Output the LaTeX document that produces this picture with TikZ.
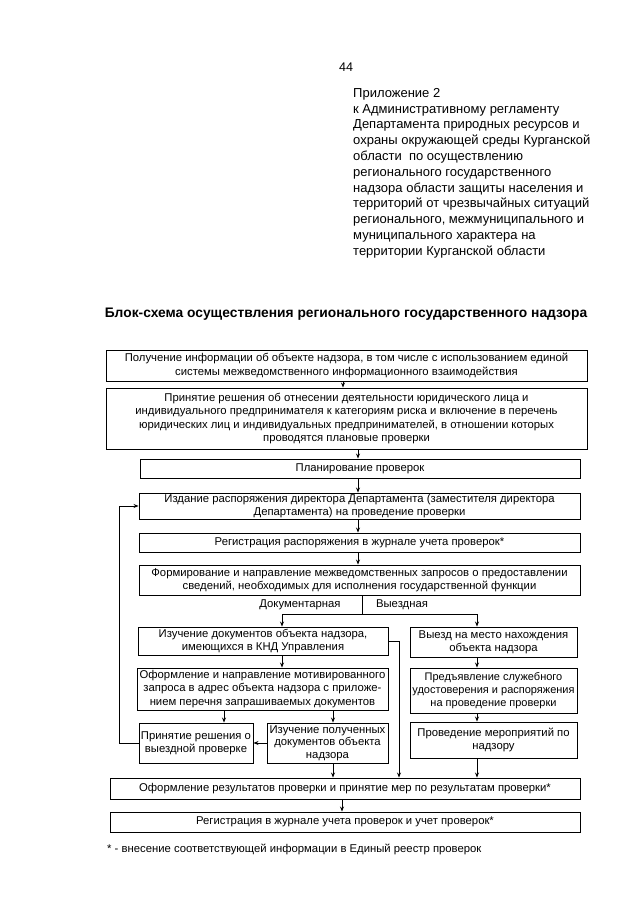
\documentclass[tikz,border=0pt]{standalone}
\usepackage{fontspec}
\setmainfont{Liberation Sans}
\usetikzlibrary{arrows.meta}
\begin{document}
\begin{tikzpicture}[x=1pt,y=-1pt,
  box/.style={draw, line width=0.9pt, align=center, inner sep=0.5pt,
    font=\fontsize{11.3}{13.4}\selectfont},
  arr/.style={-{Stealth[length=5pt,width=4pt]}, line width=0.9pt},
  ln/.style={line width=0.9pt},
  lbl/.style={font=\fontsize{11.3}{12}\selectfont, inner sep=0pt}]
\useasboundingbox (0,0) rectangle (639,905);

% header
\node[anchor=base west, inner sep=0, font=\fontsize{12.5}{15}\selectfont] (pg) at (339,71) {44};
\node[anchor=north west, align=left, inner sep=0, font=\fontsize{13}{15.8}\selectfont] (hdr) at (353,88)
 {Приложение 2\\к Административному регламенту\\Департамента природных ресурсов и\\охраны окружающей среды Курганской\\области\ \ по осуществлению\\регионального государственного\\надзора области защиты населения и\\территорий от чрезвычайных ситуаций\\регионального, межмуниципального и\\муниципального характера на\\территории Курганской области};

\node[inner sep=0, font=\bfseries\fontsize{13.8}{15}\selectfont] (title) at (346,314)
 {Блок-схема осуществления регионального государственного надзора};

% main column
\node[box, minimum width=481, minimum height=31] (b1) at (346.5,365.5)
 {Получение информации об объекте надзора, в том числе с использованием единой\\системы межведомственного информационного взаимодействия};
\node[box, minimum width=481, minimum height=61] (b2) at (346.5,418.5)
 {Принятие решения об отнесении деятельности юридического лица и\\индивидуального предпринимателя к категориям риска и включение в перечень\\юридических лиц и индивидуальных предпринимателей, в отношении которых\\проводятся плановые проверки};
\node[box, minimum width=440, minimum height=19] (b3) at (360,468.5) {Планирование проверок};
\node[box, minimum width=441, minimum height=26] (b4) at (359.5,506)
 {Издание распоряжения директора Департамента (заместителя директора\\Департамента) на проведение проверки};
\node[box, minimum width=441, minimum height=19] (b5) at (359.5,542.5)
 {Регистрация распоряжения в журнале учета проверок*};
\node[box, minimum width=441, minimum height=30] (b6) at (359.5,580)
 {Формирование и направление межведомственных запросов о предоставлении\\сведений, необходимых для исполнения государственной функции};

% left branch
\node[box, minimum width=250, minimum height=28] (L1) at (263,641)
 {Изучение документов объекта надзора,\\имеющихся в КНД Управления};
\node[box, minimum width=251, minimum height=42] (L2) at (262.5,689)
 {Оформление и направление мотивированного\\запроса в адрес объекта надзора с приложе-\\нием перечня запрашиваемых документов};
\node[box, minimum width=114, minimum height=40] (L3) at (196,743)
 {Принятие решения о\\выездной проверке};
\node[box, minimum width=121, minimum height=40, font=\fontsize{11.3}{12.6}\selectfont] (L4) at (327.5,743)
 {Изучение полученных\\документов объекта\\надзора};

% right branch
\node[box, minimum width=167, minimum height=30] (R1) at (493.5,642)
 {Выезд на место нахождения\\объекта надзора};
\node[box, minimum width=167, minimum height=45, font=\fontsize{11}{13.4}\selectfont] (R2) at (493.5,690.5)
 {Предъявление служебного\\удостоверения и распоряжения\\на проведение проверки};
\node[box, minimum width=167, minimum height=36] (R3) at (493.5,740)
 {Проведение мероприятий по\\надзору};

% bottom
\node[box, minimum width=470, minimum height=21] (F1) at (345,788.5)
 {Оформление результатов проверки и принятие мер по результатам проверки*};
\node[box, minimum width=470, minimum height=20] (F2) at (345,822)
 {Регистрация в журнале учета проверок и учет проверок*};

\node[anchor=base west, inner sep=0, font=\fontsize{11.3}{12}\selectfont] (fn) at (107,852)
 {* - внесение соответствующей информации в Единый реестр проверок};

% helper coordinates
\coordinate (cA) at (343,0);
\coordinate (cM) at (358,0);
\coordinate (j0) at (362,614);
\coordinate (jL) at (282,614);
\coordinate (jR) at (477,614);
\coordinate (cP) at (224,0);
\coordinate (cI) at (333,0);
\coordinate (cV) at (399,0);
\coordinate (cF) at (342,0);

% connectors
\draw[arr] (b1.south -| cA) -- (b2.north -| cA);
\draw[arr] (b2.south -| cM) -- (b3.north -| cM);
\draw[arr] (b3.south -| cM) -- (b4.north -| cM);
\draw[arr] (b4.south -| cM) -- (b5.north -| cM);
\draw[arr] (b5.south -| cM) -- (b6.north -| cM);
\draw[ln] (b6.south -| j0) -- (j0);
\draw[arr] (j0) -- (jL) -- (L1.north -| jL);
\draw[arr] (j0) -- (jR) -- (R1.north -| jR);
\node[lbl] (ldoc) at (300,605) {Документарная};
\node[lbl] (lvyezd) at (402,605) {Выездная};

\draw[arr] (L1.south -| jL) -- (L2.north -| jL);
\draw[arr] (L2.south -| cP) -- (L3.north -| cP);
\draw[arr] (L2.south -| cI) -- (L4.north -| cI);
\draw[arr] (L4.west) -- (L3.east);
\draw[arr] (L3.west) -- ++(-19,0) |- (b4.west);
\draw[arr] (L1.east) -| (F1.north -| cV);
\draw[arr] (L4.south -| cI) -- (F1.north -| cI);

\draw[arr] (R1.south -| jR) -- (R2.north -| jR);
\draw[arr] (R2.south -| jR) -- (R3.north -| jR);
\draw[arr] (R3.south -| jR) -- (F1.north -| jR);

\draw[arr] (F1.south -| cF) -- (F2.north -| cF);
\end{tikzpicture}
\end{document}
